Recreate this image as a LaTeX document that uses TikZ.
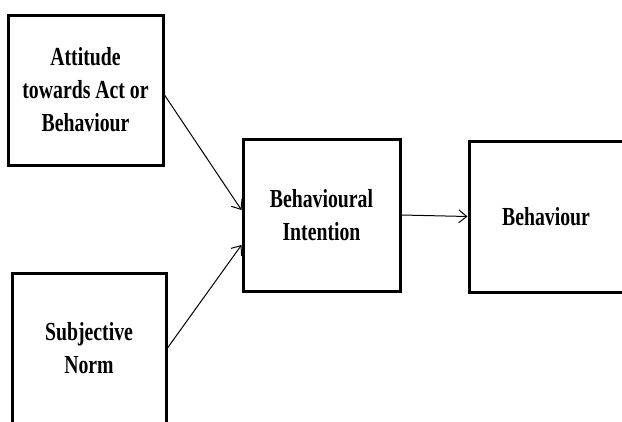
\documentclass[tikz,border=0pt]{standalone}
\usepackage{fontspec}
\setmainfont{Liberation Serif}[FakeStretch=0.76]
\usetikzlibrary{arrows.meta}
\begin{document}
\begin{tikzpicture}[x=1pt, y=-1pt,
	box/.style={draw, line width=3pt, align=center, inner sep=0pt,
		font=\fontsize{26}{33}\selectfont\bfseries},
	link/.style={line width=1pt, -{Straight Barb[length=8pt, width=13pt, line width=1pt]}}]
	\useasboundingbox (0,0) rectangle (622,421);
	\clip (0,0) rectangle (622,421);
	\node[box, minimum width=155, minimum height=150] (att) at (85.5,90) {Attitude\\towards Act or\\Behaviour};
	\node[box, minimum width=154, minimum height=150] (norm) at (89,348) {Subjective\\Norm};
	\node[box, minimum width=157, minimum height=152] (int) at (321.5,215) {Behavioural\\Intention};
	\node[box, minimum width=154, minimum height=151] (beh) at (546,216.5) {Behaviour};
	\draw[link] ([yshift=-5pt]att.east) -- ([yshift=5pt]int.west);
	\draw[link] (norm.east) -- ([yshift=-30pt]int.west);
	\draw[link] (int.east) -- (beh.west);
\end{tikzpicture}
\end{document}
